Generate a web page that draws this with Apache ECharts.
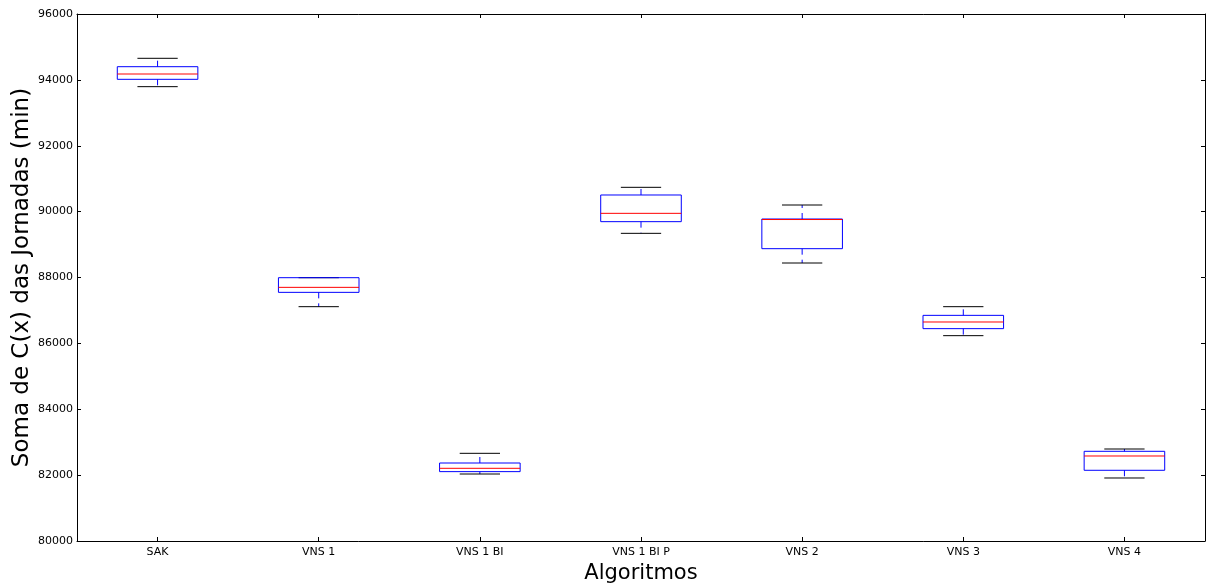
<!DOCTYPE html>
<html>
<head>
<meta charset="utf-8">
<script src="https://cdn.jsdelivr.net/npm/echarts@6/dist/echarts.min.js"></script>
<style>html,body{margin:0;padding:0;background:#fff;}#c{width:1208px;height:584px;}</style>
</head>
<body>
<div id="c"></div>
<script>
const categories = ['SAK', 'VNS 1', 'VNS 1 BI', 'VNS 1 BI P', 'VNS 2', 'VNS 3', 'VNS 4'];
const whiskerLow = [93794, 87114, 82034, 89341, 88440, 86234, 81913];
const q1 = [94017, 87549, 82106, 89695, 88875, 86447, 82147];
const medians = [94178, 87701, 82207, 89948, 89760, 86649, 82581];
const q3 = [94400, 87994, 82368, 90505, 89776, 86851, 82723];
const whiskerHigh = [94655, 87994, 82662, 90738, 90201, 87114, 82793];
const yMin = 80000, yMax = 96000, yStep = 2000;

const chart = echarts.init(document.getElementById('c'), null, {renderer: 'canvas'});
const font = 'DejaVu Sans';
const data = categories.map((c, i) => [i, whiskerLow[i], q1[i], medians[i], q3[i], whiskerHigh[i]]);

function renderItem(params, api) {
  const i = api.value(0);
  const lo = api.coord([i, api.value(1)]);
  const b1 = api.coord([i, api.value(2)]);
  const md = api.coord([i, api.value(3)]);
  const b3 = api.coord([i, api.value(4)]);
  const hi = api.coord([i, api.value(5)]);
  const band = api.size([1, 0])[0];
  const x = lo[0];
  const bw = band * 0.5, cw = band * 0.25;
  const blue = '#0000ff';
  return {
    type: 'group',
    children: [
      {type: 'line', shape: {x1: x, y1: b3[1], x2: x, y2: hi[1]}, style: {stroke: blue, lineWidth: 1, lineDash: [6, 5]}},
      {type: 'line', shape: {x1: x, y1: b1[1], x2: x, y2: lo[1]}, style: {stroke: blue, lineWidth: 1, lineDash: [6, 5]}},
      {type: 'line', shape: {x1: x - cw / 2, y1: hi[1], x2: x + cw / 2, y2: hi[1]}, style: {stroke: '#000', lineWidth: 1}},
      {type: 'line', shape: {x1: x - cw / 2, y1: lo[1], x2: x + cw / 2, y2: lo[1]}, style: {stroke: '#000', lineWidth: 1}},
      {type: 'rect', shape: {x: x - bw / 2, y: b3[1], width: bw, height: b1[1] - b3[1]}, style: {stroke: blue, fill: 'none', lineWidth: 1}},
      {type: 'line', shape: {x1: x - bw / 2, y1: md[1], x2: x + bw / 2, y2: md[1]}, style: {stroke: '#ff0000', lineWidth: 1}}
    ]
  };
}

const axisLine = {show: true, lineStyle: {color: '#000', width: 1}};
chart.setOption({
  animation: false,
  backgroundColor: '#fff',
  grid: {left: 77, right: 3, top: 14, bottom: 43, containLabel: false, outerBoundsMode: 'none'},
  xAxis: [
    {type: 'category', data: categories, position: 'bottom', boundaryGap: true,
     axisLine: axisLine, axisTick: {show: true, inside: true, alignWithLabel: true, length: 4, lineStyle: {color: '#000'}},
     axisLabel: {fontFamily: font, fontSize: 11, color: '#000', margin: 6},
     splitLine: {show: false},
     name: 'Algoritmos', nameLocation: 'middle', nameGap: 17,
     nameTextStyle: {fontFamily: font, fontSize: 21, color: '#000'}},
    {type: 'category', data: categories, position: 'top', boundaryGap: true,
     axisLine: axisLine, axisTick: {show: true, inside: true, alignWithLabel: true, length: 4, lineStyle: {color: '#000'}},
     axisLabel: {show: false}, splitLine: {show: false}}
  ],
  yAxis: [
    {type: 'value', min: yMin, max: yMax, interval: yStep, position: 'left',
     axisLine: axisLine, axisTick: {show: true, inside: true, length: 4, lineStyle: {color: '#000'}},
     axisLabel: {fontFamily: font, fontSize: 11, color: '#000', margin: 4, formatter: v => String(v)},
     splitLine: {show: false},
     name: 'Soma de C(x) das Jornadas (min)', nameLocation: 'middle', nameGap: 43, nameMoveOverlap: false,
     nameTextStyle: {fontFamily: font, fontSize: 23, color: '#000'}},
    {type: 'value', min: yMin, max: yMax, interval: yStep, position: 'right',
     axisLine: axisLine, axisTick: {show: true, inside: true, length: 4, lineStyle: {color: '#000'}},
     axisLabel: {show: false}, splitLine: {show: false}}
  ],
  series: [{
    type: 'custom', xAxisIndex: 0, yAxisIndex: 0,
    renderItem: renderItem,
    encode: {x: 0, y: [1, 2, 3, 4, 5]},
    data: data
  }]
});
</script>
</body>
</html>
